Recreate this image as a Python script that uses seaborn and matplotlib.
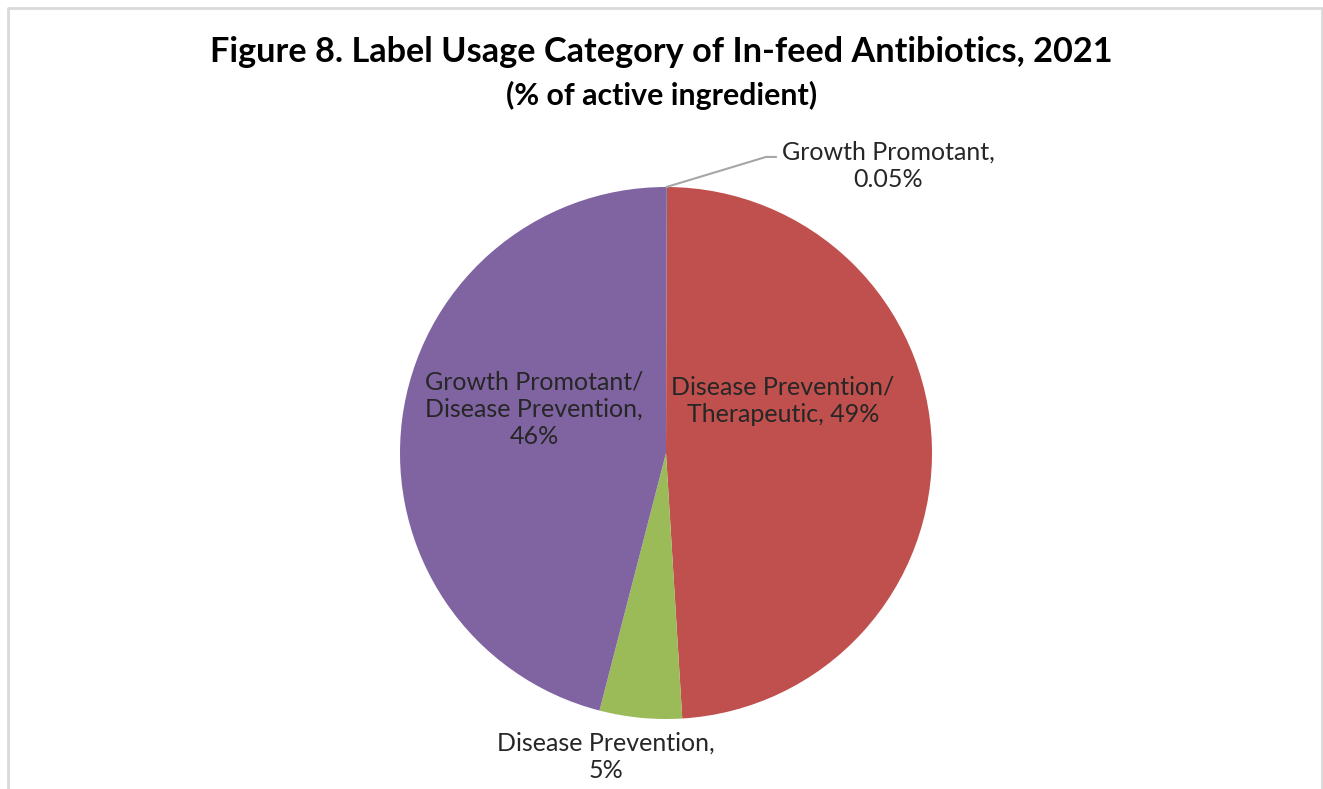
import matplotlib
matplotlib.use("Agg")
import matplotlib.pyplot as plt
from matplotlib.lines import Line2D
import seaborn as sns
import numpy as np

# Label usage categories (% of active ingredient), clockwise from 12 o'clock
categories = ["Growth Promotant", "Disease Prevention/\nTherapeutic",
              "Disease Prevention", "Growth Promotant/\nDisease Prevention"]
shares = [0.05, 49, 5, 46]
colors = ["#4F81BD", "#C0504D", "#9BBB59", "#8064A2"]

title = "Figure 8. Label Usage Category of In-feed Antibiotics, 2021"
subtitle = "(% of active ingredient)"

sns.set_theme(style="white")
plt.rcParams["font.family"] = ["Lato", "DejaVu Sans"]

W, H = 1323, 789
fig = plt.figure(figsize=(W / 100, H / 100), dpi=100)
fig.patch.set_facecolor("white")

# pie axes: centre (666, 453) px, radius 266 px
cx, cy, r = 666, 453, 266
ax = fig.add_axes([(cx - r) / W, (H - cy - r) / H, 2 * r / W, 2 * r / H])
wedges, _ = ax.pie(shares, colors=colors, startangle=90, counterclock=False,
                   wedgeprops=dict(linewidth=0))
ax.set_xlim(-1, 1)
ax.set_ylim(-1, 1)
ax.axis("off")


def fmt(name, v):
    return f"{name}, {v:g}%"


lbl_kw = dict(ha="center", va="center", fontsize=18, color="#262626",
              linespacing=1.23, clip_on=False)

# slice labels
ax.text(0.835, 1.079, fmt(categories[0], shares[0]).replace(", ", ",\n"), **lbl_kw)
ax.text(0.44, 0.195, fmt(categories[1], shares[1]), **lbl_kw)
ax.text(-0.226, -1.143, fmt(categories[2], shares[2]).replace(", ", ",\n"), **lbl_kw)
ax.text(-0.496, 0.165, fmt(categories[3], shares[3]).replace(", ", ",\n"), **lbl_kw)

# leader line for the tiny slice
w0 = wedges[0]
mid = np.deg2rad((w0.theta1 + w0.theta2) / 2)
ax.add_line(Line2D([np.cos(mid), 0.376, 0.414], [np.sin(mid), 1.113, 1.113],
                   color="#A6A6A6", linewidth=1.5, clip_on=False))

fig.text(0.5, 1 - 52 / H, title, ha="center", va="center",
         fontsize=24.7, fontweight="bold", color="black")
fig.text(0.5, 1 - 95 / H, subtitle, ha="center", va="center",
         fontsize=21.8, fontweight="bold", color="black")

# chart-area border (top, left, right)
bx0, bx1, by = 8 / W, 1321.5 / W, 1 - 8 / H
fig.add_artist(Line2D([bx0, bx0, bx1, bx1], [0, by, by, 0],
                      transform=fig.transFigure, color="#D9D9D9", linewidth=2))

fig.savefig("out.png", dpi=100)
